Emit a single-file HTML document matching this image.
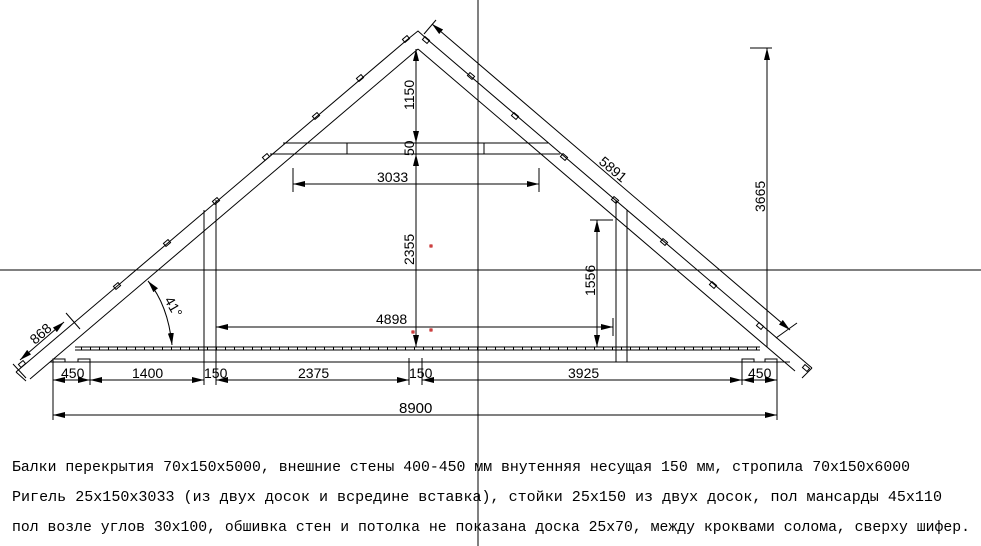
<!DOCTYPE html>
<html><head><meta charset="utf-8"><style>
html,body{margin:0;padding:0;background:#fff;}
svg{display:block}
text{font-family:"Liberation Sans Narrow","Liberation Sans",sans-serif;font-size:14px;fill:#000}
.t{font-family:"Liberation Mono","DejaVu Sans Mono",monospace;font-size:15px}
</style></head><body>
<svg width="981" height="546" viewBox="0 0 981 546" xmlns="http://www.w3.org/2000/svg">
<defs>
<marker id="a" viewBox="0 0 12 6" refX="12" refY="3" markerWidth="12" markerHeight="6" markerUnits="userSpaceOnUse" orient="auto-start-reverse"><path d="M0,0L12,3L0,6z" fill="#000"/></marker>
<pattern id="h" x="0" y="0" width="9" height="4" patternUnits="userSpaceOnUse"><path d="M0.5,0V4" stroke="#000" stroke-width="1"/></pattern>
</defs>
<g stroke="#000" stroke-width="1" fill="none">
<!-- crosshair -->
<line x1="478" y1="0" x2="478" y2="546"/>
<line x1="0" y1="270" x2="981" y2="270"/>
<!-- left rafter -->
<line x1="408" y1="39" x2="16" y2="372"/>
<line x1="418" y1="49" x2="30" y2="379"/>
<line x1="16" y1="372" x2="26" y2="381"/>
<!-- right rafter -->
<line x1="428" y1="40" x2="812" y2="368"/>
<line x1="418" y1="49" x2="795" y2="371"/>
<line x1="812" y1="368" x2="802" y2="378"/>
<!-- apex -->
<path d="M408,39 L418,31 L428,40"/>
<!-- tabs on rafters -->
<g stroke-width="1">
<rect x="-3" y="-2" width="6" height="4" transform="translate(22,364) rotate(-40)"/>
<rect x="-3" y="-2" width="6" height="4" transform="translate(117,286) rotate(-40)"/>
<rect x="-3" y="-2" width="6" height="4" transform="translate(167,243) rotate(-40)"/>
<rect x="-3" y="-2" width="6" height="4" transform="translate(216,201) rotate(-40)"/>
<rect x="-3" y="-2" width="6" height="4" transform="translate(266,157) rotate(-40)"/>
<rect x="-3" y="-2" width="6" height="4" transform="translate(316,116) rotate(-40)"/>
<rect x="-3" y="-2" width="6" height="4" transform="translate(360,78) rotate(-40)"/>
<rect x="-3" y="-2" width="6" height="4" transform="translate(406,39) rotate(-40)"/>
<rect x="-3" y="-2" width="6" height="4" transform="translate(426,40) rotate(40)"/>
<rect x="-3" y="-2" width="6" height="4" transform="translate(471,76) rotate(40)"/>
<rect x="-3" y="-2" width="6" height="4" transform="translate(515,116) rotate(40)"/>
<rect x="-3" y="-2" width="6" height="4" transform="translate(564,157) rotate(40)"/>
<rect x="-3" y="-2" width="6" height="4" transform="translate(615,200) rotate(40)"/>
<rect x="-3" y="-2" width="6" height="4" transform="translate(664,242) rotate(40)"/>
<rect x="-3" y="-2" width="6" height="4" transform="translate(713,285) rotate(40)"/>
<rect x="-3" y="-2" width="6" height="4" transform="translate(760,326) rotate(40)"/>
<rect x="-3" y="-2" width="6" height="4" transform="translate(806,368) rotate(40)"/>
</g>
<!-- collar beam -->
<line x1="283" y1="143" x2="548" y2="143"/>
<line x1="270" y1="154" x2="560" y2="154"/>
<line x1="347" y1="143" x2="347" y2="154"/>
<line x1="484" y1="143" x2="484" y2="154"/>
<!-- posts -->
<line x1="204" y1="210" x2="204" y2="385"/>
<line x1="216" y1="200" x2="216" y2="385"/>
<line x1="616" y1="200" x2="616" y2="362"/>
<line x1="627" y1="210" x2="627" y2="362"/>
<!-- floor -->
<line x1="75" y1="347" x2="760" y2="347"/>
<line x1="75" y1="350" x2="760" y2="350"/>
<line x1="50" y1="362" x2="790" y2="362"/>
<rect x="53" y="359" width="12" height="3"/>
<rect x="78" y="359" width="12" height="3"/>
<rect x="742" y="359" width="12" height="3"/>
<rect x="765" y="359" width="12" height="3"/>
</g>
<rect x="75" y="347" width="685" height="3" fill="url(#h)"/>
<g stroke="#000" stroke-width="1" fill="none">
<!-- bottom dims -->
<line x1="53" y1="362" x2="53" y2="420"/>
<line x1="90" y1="362" x2="90" y2="385"/>
<line x1="409" y1="358" x2="409" y2="385"/>
<line x1="422" y1="358" x2="422" y2="385"/>
<line x1="742" y1="362" x2="742" y2="385"/>
<line x1="777" y1="362" x2="777" y2="420"/>
<line x1="53" y1="380" x2="90" y2="380" marker-start="url(#a)" marker-end="url(#a)"/>
<line x1="90" y1="380" x2="204" y2="380" marker-start="url(#a)" marker-end="url(#a)"/>
<line x1="216" y1="380" x2="409" y2="380" marker-start="url(#a)" marker-end="url(#a)"/>
<line x1="422" y1="380" x2="742" y2="380" marker-start="url(#a)" marker-end="url(#a)"/>
<line x1="742" y1="380" x2="777" y2="380" marker-start="url(#a)" marker-end="url(#a)"/>
<line x1="53" y1="415" x2="777" y2="415" marker-start="url(#a)" marker-end="url(#a)"/>
<!-- 4898 -->
<line x1="216" y1="327" x2="613" y2="327" marker-start="url(#a)" marker-end="url(#a)"/>
<line x1="613" y1="318" x2="613" y2="336"/>
<!-- 3033 -->
<line x1="293" y1="168" x2="293" y2="192"/>
<line x1="539" y1="168" x2="539" y2="192"/>
<line x1="293" y1="184" x2="539" y2="184" marker-start="url(#a)" marker-end="url(#a)"/>
<!-- center vertical -->
<line x1="416" y1="49" x2="416" y2="143" marker-start="url(#a)" marker-end="url(#a)"/>
<line x1="416" y1="143" x2="416" y2="154"/>
<line x1="416" y1="154" x2="416" y2="347" marker-start="url(#a)" marker-end="url(#a)"/>
<!-- 1556 -->
<line x1="590" y1="220" x2="613" y2="220"/>
<line x1="597" y1="220" x2="597" y2="347" marker-start="url(#a)" marker-end="url(#a)"/>
<!-- 3665 -->
<line x1="750" y1="48" x2="772" y2="48"/>
<line x1="767" y1="48" x2="767" y2="347" marker-start="url(#a)"/>
<!-- 5891 -->
<line x1="432" y1="24" x2="790" y2="330" marker-start="url(#a)" marker-end="url(#a)"/>
<line x1="424" y1="34" x2="436" y2="20"/>
<line x1="776" y1="338" x2="797" y2="323"/>
<!-- 868 -->
<line x1="20" y1="360" x2="64" y2="322" marker-start="url(#a)" marker-end="url(#a)"/>
<line x1="13" y1="364" x2="26" y2="378"/>
<line x1="66" y1="313" x2="80" y2="329"/>
<!-- angle -->
<path d="M148,281 Q168,305 172,345" marker-start="url(#a)" marker-end="url(#a)"/>
</g>
<!-- red dots -->
<g stroke="#b00" fill="none" stroke-width="1">
<rect x="430" y="245" width="2" height="2"/><rect x="430" y="329" width="2" height="2"/><rect x="412" y="331" width="2" height="2"/>
</g>
<!-- labels -->
<text x="61" y="378">450</text>
<text x="132" y="378">1400</text>
<text x="204" y="378">150</text>
<text x="298" y="378">2375</text>
<text x="409" y="378">150</text>
<text x="568" y="378">3925</text>
<text x="748" y="378">450</text>
<text x="399" y="413" style="font-size:15px">8900</text>
<text x="376" y="324">4898</text>
<text x="377" y="182">3033</text>
<text transform="translate(414,110) rotate(-90)">1150</text>
<text transform="translate(414,156) rotate(-90)">50</text>
<text transform="translate(414,265) rotate(-90)">2355</text>
<text transform="translate(595,296) rotate(-90)">1556</text>
<text transform="translate(765,212) rotate(-90)">3665</text>
<text transform="translate(598,163) rotate(40)">5891</text>
<text transform="translate(35,345) rotate(-41)">868</text>
<text transform="translate(164,300) rotate(60)">41°</text>
<text class="t" x="12" y="471" textLength="898" lengthAdjust="spacingAndGlyphs">Балки перекрытия 70x150x5000, внешние стены 400-450 мм внутенняя несущая 150 мм, стропила 70x150x6000</text>
<text class="t" x="12" y="501" textLength="930" lengthAdjust="spacingAndGlyphs">Ригель 25x150x3033 (из двух досок и всредине вставка), стойки 25x150 из двух досок, пол мансарды 45x110</text>
<text class="t" x="12" y="531" textLength="958" lengthAdjust="spacingAndGlyphs">пол возле углов 30x100, обшивка стен и потолка не показана доска 25x70, между кроквами солома, сверху шифер.</text>
</svg>
</body></html>
